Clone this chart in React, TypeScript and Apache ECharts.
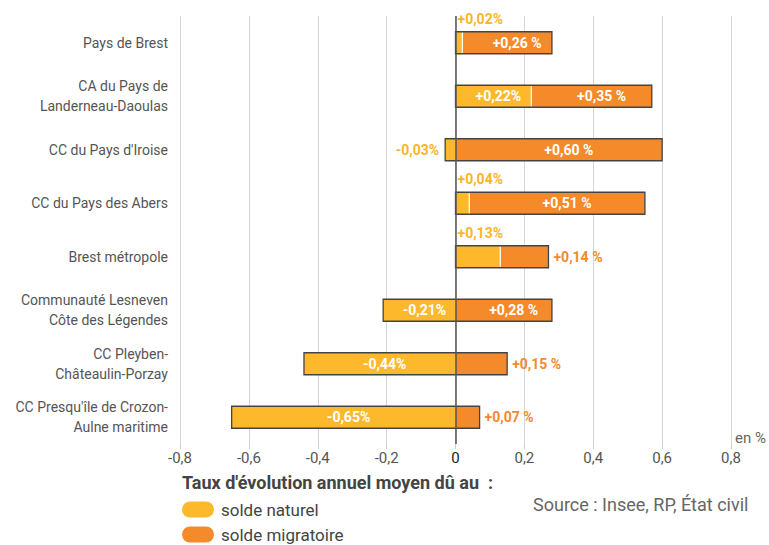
import React, { useEffect, useRef } from "react";
import * as echarts from "echarts";

const categories = [
  "Pays de Brest",
  "CA du Pays de\nLanderneau-Daoulas",
  "CC du Pays d'Iroise",
  "CC du Pays des Abers",
  "Brest métropole",
  "Communauté Lesneven\nCôte des Légendes",
  "CC Pleyben-\nChâteaulin-Porzay",
  "CC Presqu'île de Crozon-\nAulne maritime",
];
const naturel = [0.02, 0.22, -0.03, 0.04, 0.13, -0.21, -0.44, -0.65];
const migratoire = [0.26, 0.35, 0.6, 0.51, 0.14, 0.28, 0.15, 0.07];
const naturelLabelPos = ["top", "inside", "left", "top", "top", "inside", "inside", "inside"];
const migratoireLabelPos = ["inside", "inside", "inside", "inside", "right", "inside", "right", "right"];

const YELLOW = "#FDB92B";
const ORANGE = "#F58A2B";
const YELLOW_TXT = "#F9B52A";
const ORANGE_TXT = "#F28A2C";
const FONT = "Roboto";

const fmt = (v: number, space: boolean) =>
  (v > 0 ? "+" : "") + v.toFixed(2).replace(".", ",") + (space ? " %" : "%");

function labelFor(pos: string, isNat: boolean): any {
  const base = { show: true, fontSize: 14, fontWeight: "bold", fontFamily: FONT };
  if (pos === "inside") return { ...base, position: "inside", color: "#fff", offset: [isNat ? 5 : 10, 0] };
  if (pos === "top") return { ...base, position: [2, -20], color: YELLOW_TXT };
  if (pos === "left") return { ...base, position: "left", color: YELLOW_TXT, distance: 6 };
  return { ...base, position: "right", color: ORANGE_TXT, distance: 5 };
}

export default function App() {
  const ref = useRef<HTMLDivElement>(null);
  useEffect(() => {
    if (!ref.current) return;
    const chart = echarts.init(ref.current, null, { renderer: "svg" });
    const BAR_H = 22;
    chart.setOption({
      animation: false,
      textStyle: { fontFamily: FONT },
      grid: { left: 180, right: 38, top: 16, bottom: 101, containLabel: false },
      xAxis: {
        type: "value",
        min: -0.8,
        max: 0.8,
        interval: 0.2,
        axisLine: { show: false },
        axisTick: { show: true, length: 5, lineStyle: { color: "#ccc" } },
        splitLine: { show: true, lineStyle: { color: "#d6d6d6", width: 1 } },
        axisLabel: {
          fontSize: 15,
          color: "#555",
          margin: 6,
          fontFamily: FONT,
          formatter: (v: number) => (Math.abs(v) < 1e-9 ? "{z|0}" : v.toFixed(1).replace(".", ",")),
          rich: { z: { color: "#222", fontSize: 15, fontFamily: FONT } },
        },
      },
      yAxis: {
        type: "category",
        data: categories,
        inverse: true,
        axisLine: { show: false },
        axisTick: { show: false },
        splitLine: { show: false },
        axisLabel: { fontSize: 14, color: "#555", lineHeight: 20, margin: 12, fontFamily: FONT },
      },
      legend: {
        data: ["solde naturel", "solde migratoire"],
        orient: "vertical",
        left: 182,
        top: 501,
        padding: 0,
        height: 60,
        itemWidth: 32,
        itemHeight: 16,
        itemGap: 8,
        icon: "path://M8,0 H24 A8,8 0 0 1 24,16 H8 A8,8 0 0 1 8,0 Z",
        itemStyle: { borderWidth: 0 },
        textStyle: { fontSize: 17, lineHeight: 16, color: "#444", fontFamily: FONT, padding: [0, 0, 0, 2] },
        selectedMode: false,
      },
      graphic: [
        { type: "text", left: 735, top: 430, style: { text: "en %", fontSize: 15, fill: "#666", fontFamily: FONT } },
        {
          type: "text",
          left: 182,
          top: 473,
          style: { text: "Taux d'évolution annuel moyen dû au  :", fontSize: 18, fontWeight: "bold", fill: "#444", fontFamily: FONT },
        },
        {
          type: "text",
          left: 533,
          top: 495,
          style: { text: "Source : Insee, RP, État civil", fontSize: 18, fill: "#666", fontFamily: FONT },
        },
      ],
      series: [
        {
          name: "solde naturel",
          type: "bar",
          stack: "total",
          barWidth: BAR_H,
          itemStyle: { color: YELLOW },
          data: naturel.map((v, i) => ({
            value: v,
            label: { ...labelFor(naturelLabelPos[i], true), formatter: () => fmt(v, false) },
          })),
          z: 2,
        },
        {
          name: "solde migratoire",
          type: "bar",
          stack: "total",
          barWidth: BAR_H,
          itemStyle: { color: ORANGE },
          data: migratoire.map((v, i) => ({
            value: v,
            label: { ...labelFor(migratoireLabelPos[i], false), formatter: () => fmt(v, true) },
          })),
          z: 2,
          markLine: {
            silent: true,
            symbol: "none",
            label: { show: false },
            lineStyle: { color: "#555", width: 1.5, type: "solid" },
            data: [{ xAxis: 0 }],
            z: 6,
          },
        },
        {
          name: "outline",
          type: "custom",
          silent: true,
          z: 4,
          dimensions: [
            { name: "lo", type: "float" },
            { name: "hi", type: "float" },
            { name: "cat", type: "ordinal" },
            { name: "nat", type: "float" },
          ],
          encode: { x: [0, 1], y: 2 },
          data: categories.map((c, i) => [
            Math.min(0, naturel[i]),
            Math.max(0, naturel[i]) + migratoire[i],
            c,
            naturel[i],
          ]),
          renderItem: (params: any, api: any) => {
            const idx = params.dataIndex;
            const lo = api.value(0);
            const hi = api.value(1);
            const nat = api.value(3);
            const p0 = api.coord([lo, idx]);
            const p1 = api.coord([hi, idx]);
            const children: any[] = [
              {
                type: "rect",
                shape: { x: p0[0], y: p0[1] - BAR_H / 2, width: p1[0] - p0[0], height: BAR_H },
                style: { fill: "none", stroke: "#444", lineWidth: 1.3 },
              },
            ];
            if (nat > 0) {
              const pd = api.coord([nat, idx]);
              children.push({
                type: "line",
                shape: { x1: pd[0], y1: p0[1] - BAR_H / 2 + 1, x2: pd[0], y2: p0[1] + BAR_H / 2 - 1 },
                style: { stroke: "#fff", lineWidth: 1.2 },
              });
            }
            return { type: "group", children };
          },
        },
      ],
    });
    return () => chart.dispose();
  }, []);
  return <div ref={ref} style={{ position: "absolute", left: 0, top: 0, width: 769, height: 545 }} />;
}
